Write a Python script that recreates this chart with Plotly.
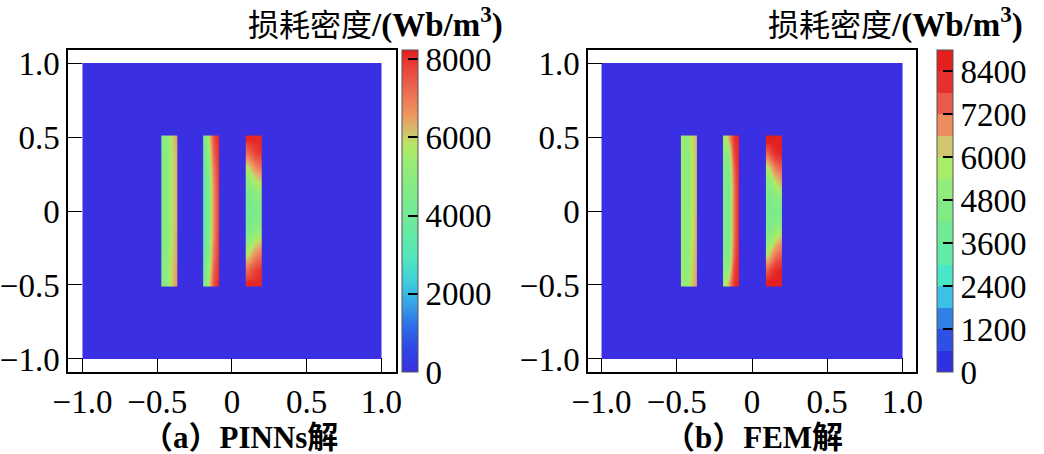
import plotly.graph_objects as go

W, H = 1044, 454

# ---------------- data ----------------
xtick_vals = [-1.0, -0.5, 0.0, 0.5, 1.0]
xtick_text = ["−1.0", "−0.5", "0", "0.5", "1.0"]
ytick_vals = [-1.0, -0.5, 0.0, 0.5, 1.0]
ytick_text = ["−1.0", "−0.5", "0", "0.5", "1.0"]

domain_x = [-1.0, 1.0]          # computational domain (value 0)
domain_y = [-1.0, 1.0]
domain_value = [[0]]

bar_centers = [-0.42, -0.14, 0.145]
bar_width = 0.105
col_fracs = [0.0, 0.2, 0.4, 0.6, 0.8, 1.0]
row_edges = [0.51, 0.45, 0.35, 0.25, 0.15, 0.05, -0.05, -0.15, -0.25, -0.35, -0.45, -0.51]

pinn_bar1 = [
    [4800, 5000, 5400, 6000, 6400],
    [4700, 4900, 5300, 5900, 6300],
    [4700, 4900, 5300, 5900, 6300],
    [4700, 4900, 5300, 5900, 6300],
    [4700, 4900, 5300, 5900, 6300],
    [4700, 4900, 5300, 5900, 6300],
    [4700, 4900, 5300, 5900, 6300],
    [4700, 4900, 5300, 5900, 6400],
    [4700, 4900, 5400, 6000, 6400],
    [4800, 5000, 5500, 6100, 6500],
    [4800, 5000, 5500, 6100, 6600],
]
pinn_bar2 = [
    [4600, 5400, 6600, 7700, 8100],
    [4200, 5000, 6200, 7500, 8000],
    [3900, 4700, 5900, 7200, 7900],
    [3700, 4500, 5700, 7000, 7900],
    [3600, 4400, 5600, 6900, 7800],
    [3600, 4400, 5600, 6900, 7800],
    [3600, 4400, 5600, 6900, 7800],
    [3700, 4500, 5700, 7000, 7900],
    [3900, 4700, 5900, 7200, 7900],
    [4200, 5000, 6200, 7500, 8000],
    [4600, 5400, 6600, 7700, 8100],
]
pinn_bar3 = [
    [8100, 8100, 8100, 8100, 8100],
    [7200, 7500, 7700, 7900, 8000],
    [5800, 6200, 6600, 6900, 7100],
    [4900, 5200, 5500, 5800, 6000],
    [4400, 4500, 4700, 4900, 5000],
    [4200, 4300, 4400, 4500, 4600],
    [4400, 4500, 4700, 4900, 5000],
    [4900, 5200, 5500, 5800, 6000],
    [5800, 6200, 6600, 6900, 7100],
    [7200, 7500, 7700, 7900, 8000],
    [8100, 8100, 8100, 8100, 8100],
]

fem_bar1 = [
    [5400, 5200, 5400, 5900, 6200],
    [5300, 5000, 5200, 5800, 6200],
    [5300, 5000, 5200, 5800, 6200],
    [5300, 5000, 5200, 5800, 6200],
    [5300, 5000, 5200, 5800, 6200],
    [5300, 5000, 5200, 5800, 6200],
    [5300, 5000, 5200, 5800, 6300],
    [5300, 5000, 5200, 5800, 6300],
    [5300, 5000, 5300, 5900, 6300],
    [5300, 5000, 5300, 6000, 6400],
    [5400, 5200, 5500, 6100, 6500],
]
fem_bar2 = [
    [5600, 6000, 7000, 8000, 8400],
    [5200, 4800, 6200, 7800, 8300],
    [5000, 4300, 5600, 7400, 8300],
    [4900, 4100, 5300, 7200, 8200],
    [4900, 4000, 5200, 7100, 8200],
    [4900, 4000, 5200, 7100, 8200],
    [4900, 4000, 5200, 7100, 8200],
    [4900, 4100, 5300, 7200, 8200],
    [5000, 4300, 5600, 7400, 8300],
    [5200, 4800, 6200, 7800, 8300],
    [5600, 6000, 7000, 8000, 8400],
]
fem_bar3 = [
    [8600, 8600, 8600, 8600, 8600],
    [7400, 7800, 8100, 8300, 8400],
    [5800, 6300, 6800, 7200, 7400],
    [4900, 5200, 5700, 6100, 6400],
    [4500, 4600, 4800, 5000, 5200],
    [4300, 4400, 4400, 4500, 4600],
    [4500, 4600, 4800, 5000, 5200],
    [4900, 5200, 5700, 6100, 6400],
    [5800, 6300, 6800, 7200, 7400],
    [7400, 7800, 8100, 8300, 8400],
    [8600, 8600, 8600, 8600, 8600],
]

pinn_bars = [pinn_bar1, pinn_bar2, pinn_bar3]
fem_bars = [fem_bar1, fem_bar2, fem_bar3]

pinn_cmax = 8230
fem_cmax = 9000
pinn_cbar_ticks = [0, 2000, 4000, 6000, 8000]
fem_cbar_ticks = [0, 1200, 2400, 3600, 4800, 6000, 7200, 8400]

# continuous colour stops (absolute values)
stop_values = [0, 600, 1200, 1800, 2400, 3000, 3600, 4200, 4800, 5400, 5800, 6100, 6600, 7200, 7800, 8400, 9000]
stop_colors = ["#3a2fe2", "#2f45e6", "#2f70e8", "#38a8e8", "#40d4d8", "#55e8b8", "#66e9a2",
               "#76ea92", "#86eb84", "#9cec72", "#b4e862", "#d0c46c", "#ee9460", "#ec6a52",
               "#e8423a", "#e42222", "#e01818"]

# discrete colorbar bands of the FEM plot (600 each)
fem_band_colors = ["#3030e0", "#2e50e6", "#3080e8", "#3cc0e8", "#4ae6c8", "#62eaa8", "#70ea94",
                   "#80ea84", "#90ec7c", "#a8ec68", "#d2c670", "#ee8c60", "#e85a4c", "#e63030",
                   "#e4201f"]

title_text = ('<span style="font-size:31px">损耗密度</span>'
              '<b>/(Wb/m<sup>3</sup>)</b>')
caption_a = "<b>（a）PINNs解</b>"
caption_b = "<b>（b）FEM解</b>"

# ---------------- helpers ----------------
def scale_for(cmax):
    sc = []
    for v, c in zip(stop_values, stop_colors):
        if v < cmax:
            sc.append([v / cmax, c])
    sc.append([1.0, "#e41c1c" if cmax < 9000 else stop_colors[-1]])
    return sc

def discrete_scale(colors):
    n = len(colors)
    sc = []
    for i, c in enumerate(colors):
        sc.append([i / n, c])
        sc.append([(i + 1) / n, c])
    return sc

def px_x(p):
    return p / W

def px_y(p):
    return 1 - p / H

SERIF = "Liberation Serif, Times New Roman, Noto Sans CJK SC"

fig = go.Figure()

for xa, ya, bars, cax in [("x", "y", pinn_bars, "coloraxis"), ("x2", "y2", fem_bars, "coloraxis2")]:
    fig.add_trace(go.Heatmap(x=domain_x, y=domain_y, z=domain_value, coloraxis=cax,
                             xaxis=xa, yaxis=ya, hoverinfo="skip"))
    for c, z in zip(bar_centers, bars):
        xe = [c - bar_width / 2 + f * bar_width for f in col_fracs]
        fig.add_trace(go.Heatmap(x=xe, y=row_edges, z=z, coloraxis=cax, zsmooth="best",
                                 xaxis=xa, yaxis=ya, hoverinfo="skip"))

# dummy trace carrying the discrete FEM colorbar
fig.add_trace(go.Scatter(x=[0], y=[0], mode="markers", xaxis="x2", yaxis="y2",
                         marker=dict(size=1, opacity=0, color=[0], coloraxis="coloraxis3"),
                         hoverinfo="skip", showlegend=False))

ydom = [px_y(372), px_y(50)]
axis_common = dict(showline=True, linecolor="black", linewidth=1.5, mirror=True,
                   ticks="inside", ticklen=14, tickwidth=1.3, tickcolor="black",
                   showgrid=False, zeroline=False,
                   tickfont=dict(family=SERIF, size=33, color="black"))

cb_common = dict(xanchor="left", xpad=0, y=px_y(372), yanchor="bottom", ypad=0,
                 len=(372 - 50) / H, lenmode="fraction", thickness=16, thicknessmode="pixels",
                 outlinewidth=1, outlinecolor="#555", ticks="inside", ticklen=10, tickwidth=1.5,
                 tickcolor="black", tickfont=dict(family=SERIF, size=33, color="black"))

fig.update_layout(
    width=W, height=H, autosize=False,
    margin=dict(l=0, r=0, t=0, b=0, autoexpand=False),
    paper_bgcolor="white", plot_bgcolor="white", showlegend=False,
    xaxis=dict(domain=[px_x(68), px_x(396)], range=[-1.097, 1.098], anchor="y",
               tickvals=xtick_vals, ticktext=xtick_text, **axis_common),
    yaxis=dict(domain=ydom, range=[-1.088, 1.088], anchor="x",
               tickvals=ytick_vals, ticktext=ytick_text, **axis_common),
    xaxis2=dict(domain=[px_x(588), px_x(916)], range=[-1.09, 1.09], anchor="y2",
                tickvals=xtick_vals, ticktext=xtick_text, **axis_common),
    yaxis2=dict(domain=ydom, range=[-1.088, 1.088], anchor="x2",
                tickvals=ytick_vals, ticktext=ytick_text, **axis_common),
    coloraxis=dict(cmin=0, cmax=pinn_cmax, colorscale=scale_for(pinn_cmax), showscale=True,
                   colorbar=dict(x=px_x(402), tickvals=pinn_cbar_ticks, **cb_common)),
    coloraxis2=dict(cmin=0, cmax=fem_cmax, colorscale=scale_for(fem_cmax), showscale=False),
    coloraxis3=dict(cmin=0, cmax=fem_cmax, colorscale=discrete_scale(fem_band_colors), showscale=True,
                    colorbar=dict(x=px_x(937), tickvals=fem_cbar_ticks, **cb_common)),
    annotations=[
        dict(text=title_text, xref="paper", yref="paper", x=px_x(505), y=px_y(23),
             xanchor="right", yanchor="middle", showarrow=False,
             font=dict(family=SERIF, size=33, color="black")),
        dict(text=title_text, xref="paper", yref="paper", x=px_x(1025), y=px_y(23),
             xanchor="right", yanchor="middle", showarrow=False,
             font=dict(family=SERIF, size=33, color="black")),
        dict(text=caption_a, xref="paper", yref="paper", x=px_x(240), y=px_y(437),
             xanchor="center", yanchor="middle", showarrow=False,
             font=dict(family=SERIF, size=31, color="black")),
        dict(text=caption_b, xref="paper", yref="paper", x=px_x(753), y=px_y(437),
             xanchor="center", yanchor="middle", showarrow=False,
             font=dict(family=SERIF, size=31, color="black")),
    ],
)

fig.write_html("out.html", config={"displayModeBar": False},
               post_script="document.body.style.margin='0';document.documentElement.style.overflow='hidden';")
